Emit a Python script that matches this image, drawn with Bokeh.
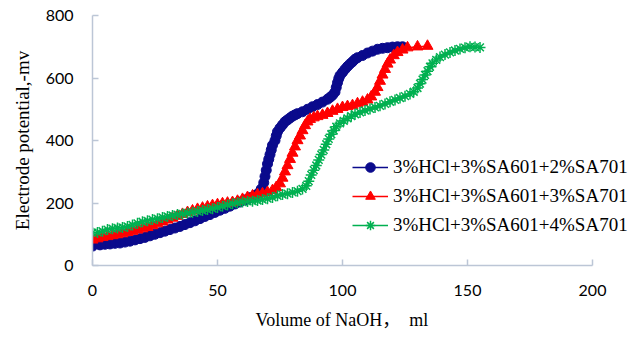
from bokeh.plotting import figure
from bokeh.models import Range1d, Legend, LegendItem, FixedTicker, Title
from bokeh.embed import file_html
from bokeh.resources import INLINE

labels = ["3%HCl+3%SA601+2%SA701", "3%HCl+3%SA601+3%SA701", "3%HCl+3%SA601+4%SA701"]

x_blue = [0, 3, 5, 7, 9, 11, 13, 15, 17, 19, 21, 23, 25, 27, 29, 31, 33, 35, 37, 39, 41, 43, 45, 47, 49,
          51, 53, 55, 57, 59, 61, 63, 65, 66.5, 67.5, 68.5, 69, 69.5, 70, 70.5, 71, 71.5, 72, 73, 73.5, 74,
          75, 76, 77, 78, 79, 80, 81, 82, 84, 86, 88, 90, 92, 94, 95, 96, 97, 97.5, 98, 98.5, 99, 100, 101,
          102, 103, 104, 105, 106, 108, 110, 112, 114, 116, 118, 120, 122, 124]
y_blue = [62, 66, 68, 69, 71, 72, 75, 78, 82, 86, 90, 95, 100, 105, 110, 115, 120, 125, 131, 137, 143, 150,
          157, 163, 170, 177, 183, 190, 197, 203, 210, 217, 225, 232, 245, 265, 285, 305, 325, 340, 355, 370,
          385, 400, 415, 428, 440, 450, 460, 466, 472, 478, 482, 486, 492, 500, 508, 515, 523, 532, 538, 545,
          555, 570, 585, 598, 608, 618, 628, 637, 645, 652, 660, 665, 672, 680, 686, 692, 695, 697, 699, 700, 700]

x_red = [0, 2, 4, 6, 8, 10, 12, 14, 16, 18, 20, 22, 24, 26, 28, 30, 32, 34, 36, 38, 40, 42, 44, 46, 48, 50,
         52, 54, 56, 58, 60, 62, 64, 66, 68, 70, 72, 73.5, 75, 76, 77, 78, 79, 80, 81, 82, 83, 84, 85, 86, 87,
         88.5, 90, 92, 94, 96, 98, 100, 102, 104, 106, 108, 110, 111.5, 113, 114, 115, 116, 117, 118, 119,
         120.5, 122, 124, 126, 130, 134]
y_red = [82, 86, 90, 93, 96, 99, 102, 106, 110, 114, 118, 122, 128, 134, 140, 146, 152, 158, 164, 170, 175,
         180, 184, 188, 192, 195, 198, 200, 202, 206, 212, 218, 223, 227, 230, 234, 240, 250, 262, 280, 300,
         320, 340, 360, 380, 400, 415, 432, 448, 460, 468, 473, 477, 481, 487, 494, 500, 506, 509, 512, 518,
         523, 530, 540, 555, 570, 590, 610, 628, 645, 658, 672, 682, 690, 697, 700, 702]

x_green = [0, 2, 4, 6, 8, 10, 12, 14, 16, 18, 20, 22, 24, 26, 28, 30, 32, 34, 36, 38, 40, 42, 44, 46, 48,
           50, 52, 54, 56, 58, 60, 62, 64, 66, 68, 70, 72, 74, 76, 78, 80, 82, 84, 85.5, 86.5, 87.5, 88.5,
           89.5, 90.5, 91.5, 92.5, 93.5, 94.5, 95.5, 96.5, 97.5, 99, 100.5, 102, 103.5, 105, 107, 109, 111,
           113, 115, 117, 119, 121, 123, 125, 127, 128.5, 130, 131, 132, 133, 134, 135, 136, 137.5, 139, 141,
           143, 145, 147, 149, 151, 153, 155]
y_green = [105, 106, 110, 115, 118, 120, 122, 125, 130, 135, 140, 143, 147, 150, 154, 157, 160, 163, 165,
           168, 170, 173, 176, 179, 182, 186, 190, 194, 198, 201, 203, 205, 206, 208, 211, 214, 218, 223, 227,
           230, 234, 238, 245, 255, 270, 290, 305, 320, 338, 355, 370, 388, 405, 420, 432, 444, 455, 463, 471,
           478, 484, 490, 496, 501, 506, 511, 517, 524, 530, 536, 542, 549, 556, 568, 582, 595, 610, 622, 636,
           647, 658, 667, 675, 682, 688, 693, 697, 700, 699, 698]

x_ticks = [0, 50, 100, 150, 200]
y_ticks = [0, 200, 400, 600, 800]
x_title = "Volume of NaOH，\u3000ml"
y_title = "Electrode potential,-mv"

# frame extends to the right so that the legend is not clipped; axis line is bounded to 0..200
p = figure(width=644, height=339, output_backend="svg", toolbar_location=None,
           x_range=Range1d(0, 219.2), y_range=Range1d(0, 800),
           min_border_left=92, min_border_right=4, min_border_top=15, min_border_bottom=74)
p.outline_line_color = None
p.xgrid.grid_line_color = None
p.ygrid.grid_line_color = None
p.background_fill_color = "white"
p.border_fill_color = "white"

axis_col = "#BCC6D6"
for ax in (p.xaxis[0], p.yaxis[0]):
    ax.axis_line_color = axis_col
    ax.axis_line_width = 1.5
    ax.major_tick_line_color = axis_col
    ax.major_tick_line_width = 1.5
    ax.major_tick_in = 6
    ax.major_tick_out = 0
    ax.minor_tick_line_color = None
    ax.major_label_text_font = "Lato"
    ax.major_label_text_font_size = "16px"
    ax.major_label_text_color = "black"
    ax.axis_label_text_font = "Liberation Serif"
    ax.axis_label_text_font_style = "normal"
    ax.axis_label_text_color = "black"

p.xaxis.bounds = (0, 200)
p.xaxis.ticker = FixedTicker(ticks=x_ticks)
p.yaxis.ticker = FixedTicker(ticks=y_ticks)
p.xaxis.major_label_standoff = 19
p.yaxis.major_label_standoff = 19
p.yaxis.axis_label = y_title
p.yaxis.axis_label_text_font_size = "19px"
p.yaxis.axis_label_standoff = 10

# x-axis title centred under the 0..200 span (frame is wider)
xt = Title(text=x_title, align="left", offset=163, standoff=18,
           text_font="'Liberation Serif', 'Noto Sans CJK SC', serif", text_font_size="18px",
           text_font_style="normal", text_color="black")
p.add_layout(xt, "below")

blue, red, green = "#0A0A8C", "#FF0000", "#00B050"

lb = p.line(x_blue, y_blue, line_color=blue, line_width=1.5)
sb = p.scatter(x_blue, y_blue, marker="circle", size=10, fill_color=blue, line_color=blue)
lr = p.line(x_red, y_red, line_color=red, line_width=1.5)
sr = p.scatter(x_red, y_red, marker="triangle", size=11, fill_color=red, line_color=red)
lg = p.line(x_green, y_green, line_color=green, line_width=1.5)
sg = p.scatter(x_green, y_green, marker="asterisk", size=11, line_color=green, line_width=1.5)

legend = Legend(items=[LegendItem(label=labels[0], renderers=[lb, sb]),
                       LegendItem(label=labels[1], renderers=[lr, sr]),
                       LegendItem(label=labels[2], renderers=[lg, sg])],
                location=(260, 28), orientation="vertical")
legend.border_line_color = None
legend.background_fill_alpha = 0
legend.padding = 0
legend.margin = 0
legend.spacing = 5
legend.glyph_width = 36
legend.glyph_height = 24
legend.label_height = 24
legend.label_standoff = 5
legend.label_text_font = "Liberation Serif"
legend.label_text_font_size = "19px"
legend.label_text_color = "black"
p.add_layout(legend)

open("out.html", "w").write(file_html(p, INLINE))
